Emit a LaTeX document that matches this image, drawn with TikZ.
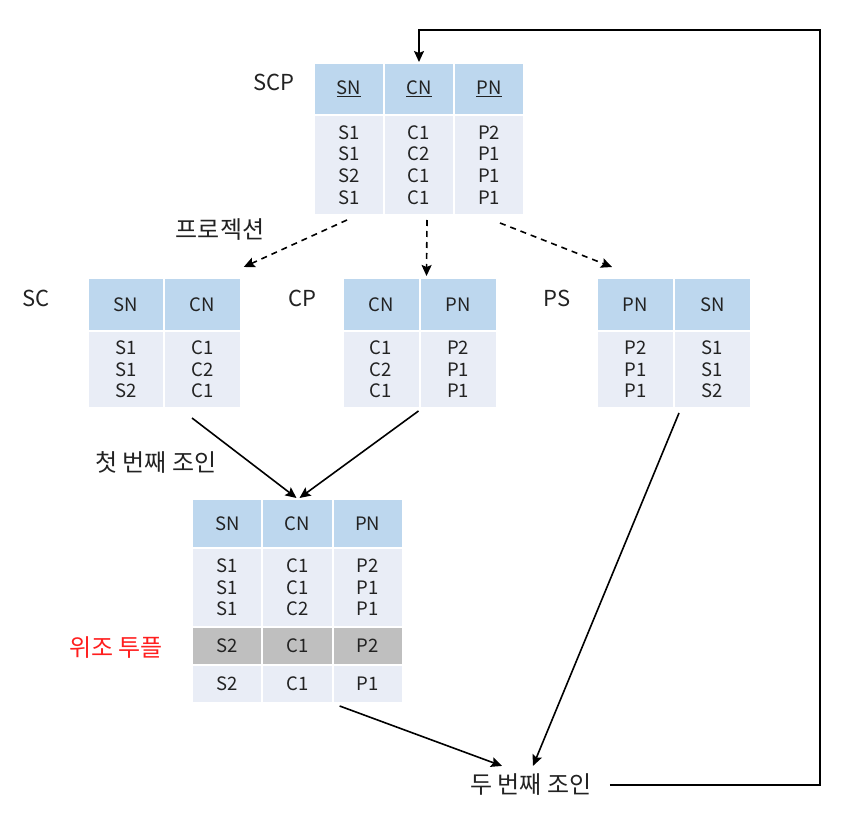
\documentclass[tikz,border=0pt]{standalone}
\usepackage{fontspec}
\setmainfont{Noto Sans CJK KR}
\usepackage{tikz}
\usetikzlibrary{arrows,arrows.meta}
\usetikzlibrary{calc}
\definecolor{hblue}{RGB}{189,215,238}
\definecolor{bblue}{RGB}{233,237,246}
\definecolor{gcell}{RGB}{191,191,191}
\definecolor{ink}{RGB}{34,34,34}
\definecolor{fakered}{RGB}{255,30,30}
\tikzstyle{hcell} = [
    rectangle,
    fill=hblue,
    draw=white,
    line width=2pt,
    inner sep=0pt,
    text=ink,
    font=\fontsize{18.5}{21.7}\selectfont,
    text centered
]
\tikzstyle{bcell} = [hcell, fill=bblue, align=center]
\tikzstyle{fcell} = [hcell, fill=gcell]
\tikzstyle{lbl}   = [inner sep=0pt, text=ink, font=\fontsize{22}{26}\selectfont]
\tikzstyle{klbl}  = [lbl, font=\fontsize{24}{28}\selectfont]
\tikzstyle{tran}  = [
    draw,
    ->,
    >={Stealth[length=11pt,width=10pt,inset=2pt]},
    line width=1.6pt,
    black
]
\tikzstyle{proj}  = [tran, dash pattern=on 6pt off 5pt]

\begin{document}
\begin{tikzpicture}[x=1pt, y=-1pt]
\useasboundingbox (0,0) rectangle (844,821);

% SCP
\node[lbl] (lscp) at (274,82) {SCP};
\node[hcell, minimum width=70pt, minimum height=52pt]  (scpSN)  at (349,89)  {\underline{SN}};
\node[hcell, minimum width=70pt, minimum height=52pt]  (scpCN)  at (419,89)  {\underline{CN}};
\node[hcell, minimum width=70pt, minimum height=52pt]  (scpPN)  at (489,89)  {\underline{PN}};
\node[bcell, minimum width=70pt, minimum height=100pt] (scpSNb) at (349,165) {S1\\S1\\S2\\S1};
\node[bcell, minimum width=70pt, minimum height=100pt] (scpCNb) at (419,165) {C1\\C2\\C1\\C1};
\node[bcell, minimum width=70pt, minimum height=100pt] (scpPNb) at (489,165) {P2\\P1\\P1\\P1};

\node[klbl] (lproj) at (220,230) {프로젝션};

% SC
\node[lbl] (lsc) at (36,298) {SC};
\node[hcell, minimum width=76.5pt, minimum height=53pt] (scSN)  at (126,304.5)   {SN};
\node[hcell, minimum width=76.5pt, minimum height=53pt] (scCN)  at (202.5,304.5) {CN};
\node[bcell, minimum width=76.5pt, minimum height=77pt] (scSNb) at (126,369.5)   {S1\\S1\\S2};
\node[bcell, minimum width=76.5pt, minimum height=77pt] (scCNb) at (202.5,369.5) {C1\\C2\\C1};

% CP
\node[lbl] (lcp) at (302,298) {CP};
\node[hcell, minimum width=77pt, minimum height=53pt] (cpCN)  at (381,304.5) {CN};
\node[hcell, minimum width=77pt, minimum height=53pt] (cpPN)  at (458,304.5) {PN};
\node[bcell, minimum width=77pt, minimum height=77pt] (cpCNb) at (381,369.5) {C1\\C2\\C1};
\node[bcell, minimum width=77pt, minimum height=77pt] (cpPNb) at (458,369.5) {P2\\P1\\P1};

% PS
\node[lbl] (lps) at (557,298) {PS};
\node[hcell, minimum width=77pt, minimum height=53pt] (psPN)  at (635.5,304.5) {PN};
\node[hcell, minimum width=77pt, minimum height=53pt] (psSN)  at (712.5,304.5) {SN};
\node[bcell, minimum width=77pt, minimum height=77pt] (psPNb) at (635.5,369.5) {P2\\P1\\P1};
\node[bcell, minimum width=77pt, minimum height=77pt] (psSNb) at (712.5,369.5) {S1\\S1\\S2};

\node[klbl] (j1) at (156,462) {첫 번째 조인};

% first join
\node[hcell, minimum width=70.3pt, minimum height=49pt] (jSN)  at (227.2,523.5) {SN};
\node[hcell, minimum width=70.3pt, minimum height=49pt] (jCN)  at (297.5,523.5) {CN};
\node[hcell, minimum width=70.3pt, minimum height=49pt] (jPN)  at (367.8,523.5) {PN};
\node[bcell, minimum width=70.3pt, minimum height=79pt] (jSNa) at (227.2,587.5) {S1\\S1\\S1};
\node[bcell, minimum width=70.3pt, minimum height=79pt] (jCNa) at (297.5,587.5) {C1\\C1\\C2};
\node[bcell, minimum width=70.3pt, minimum height=79pt] (jPNa) at (367.8,587.5) {P2\\P1\\P1};
\node[fcell, minimum width=70.3pt, minimum height=38pt] (jSNg) at (227.2,646)   {S2};
\node[fcell, minimum width=70.3pt, minimum height=38pt] (jCNg) at (297.5,646)   {C1};
\node[fcell, minimum width=70.3pt, minimum height=38pt] (jPNg) at (367.8,646)   {P2};
\node[bcell, minimum width=70.3pt, minimum height=38pt] (jSNl) at (227.2,684)   {S2};
\node[bcell, minimum width=70.3pt, minimum height=38pt] (jCNl) at (297.5,684)   {C1};
\node[bcell, minimum width=70.3pt, minimum height=38pt] (jPNl) at (367.8,684)   {P1};

\node[klbl, text=fakered] (lfake) at (116,648) {위조 투플};

\node[klbl, inner xsep=18pt, inner ysep=8pt] (j2) at (531,785) {두 번째 조인};
\coordinate (fb) at (820,30);

% projections
\draw[proj] ([xshift=-2pt,yshift=-4pt]scpSNb.south) to ([xshift=2pt,yshift=10pt]scCN.north east);
\draw[proj] ([xshift=8pt,yshift=-4pt]scpCNb.south)  to ([xshift=8pt,yshift=1pt]cpPN.north west);
\draw[proj] ([xshift=11pt,yshift=-7pt]scpPNb.south) to ([xshift=-23.5pt,yshift=10pt]psPN.north);

% joins
\draw[tran] ([xshift=-10.5pt,yshift=-9pt]scCNb.south) to ([xshift=-1pt]jCN.north);
\draw[tran] ([yshift=-2pt]cpPNb.south west)           to ([xshift=2pt]jCN.north);
\draw[tran] ([xshift=6pt,yshift=-4pt]psSNb.south west) to ([xshift=2pt]j2.north);
\draw[tran] ([xshift=8pt,yshift=-2pt]jPNl.south west)  to ([xshift=-29pt]j2.north);

% back to SCP
\draw[tran] (j2.east) -| (fb) -| (scpCN.north);

\end{tikzpicture}
\end{document}
